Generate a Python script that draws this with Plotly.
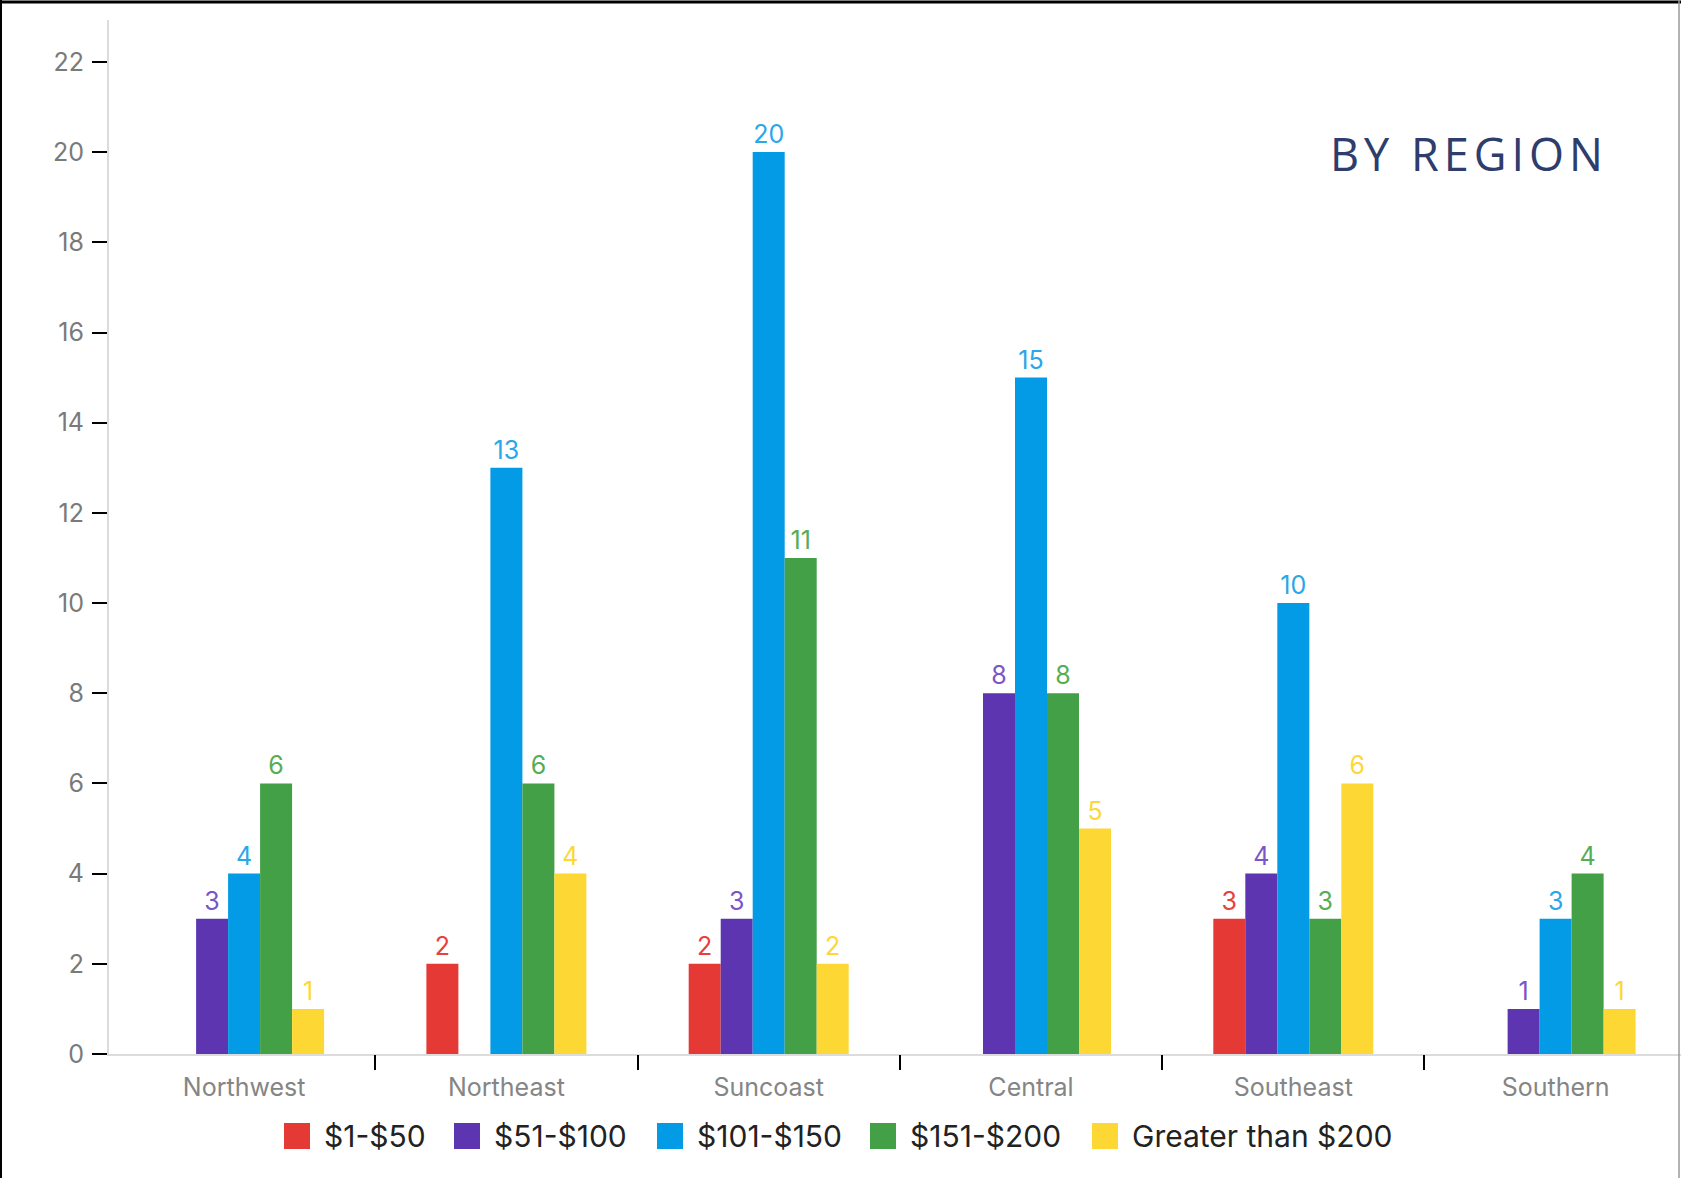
import plotly.graph_objects as go

regions = ["Northwest", "Northeast", "Suncoast", "Central", "Southeast", "Southern"]
series_names = ["$1-$50", "$51-$100", "$101-$150", "$151-$200", "Greater than $200"]
v_1_50 = [None, 2, 2, None, 3, None]
v_51_100 = [3, None, 3, 8, 4, 1]
v_101_150 = [4, 13, 20, 15, 10, 3]
v_151_200 = [6, 6, 11, 8, 3, 4]
v_gt_200 = [1, 4, 2, 5, 6, 1]
y_ticks = [0, 2, 4, 6, 8, 10, 12, 14, 16, 18, 20, 22]

series_values = [v_1_50, v_51_100, v_101_150, v_151_200, v_gt_200]
bar_colors = ["#e53935", "#5e35b1", "#039be5", "#43a047", "#fdd835"]
label_colors = ["#e8403c", "#7a55c8", "#2aa6ea", "#55ad55", "#fdd835"]

# layout constants (pixels)
W, H = 1681, 1178
ML, MR, MT, MB = 109, 0, 20, 124
PW = W - ML - MR
PH = H - MT - MB
FONT = "Inter, Roboto, sans-serif"
X_RANGE = [-0.515, 5.478]
legend_swatch_left = [284, 454, 657, 870, 1092]
LEG_SW = 26
LEG_Y = 1136


def px_x(p):
    return (p - ML) / PW


def px_y(p):
    return (H - MB - p) / PH


fig = go.Figure()
for name, vals, c, lc in zip(series_names, series_values, bar_colors, label_colors):
    fig.add_trace(go.Bar(
        x=regions, y=vals, name=name, marker=dict(color=c, line=dict(width=0)),
        text=vals, texttemplate="%{y}", textposition="outside",
        textfont=dict(color=lc, size=25, family=FONT),
        cliponaxis=False, showlegend=False,
    ))

# empty helper trace so the separator-tick axis is drawn
fig.add_trace(go.Scatter(x=[None], y=[None], xaxis="x2", yaxis="y", mode="markers",
                         showlegend=False, hoverinfo="skip"))

shapes = [
    # figure border
    dict(type="line", xref="paper", yref="paper", x0=px_x(0), x1=px_x(W), y0=px_y(2), y1=px_y(2),
         line=dict(color="black", width=3)),
    dict(type="line", xref="paper", yref="paper", x0=px_x(1), x1=px_x(1), y0=px_y(0), y1=px_y(H),
         line=dict(color="black", width=2)),
    dict(type="line", xref="paper", yref="paper", x0=px_x(W - 2), x1=px_x(W - 2), y0=px_y(0), y1=px_y(H),
         line=dict(color="#9a9a9a", width=1.5)),
]
annotations = [dict(text='<span style="letter-spacing:5px">BY REGION</span>',
                    xref="paper", yref="paper", x=0.955, y=0.871,
                    xanchor="right", yanchor="middle", showarrow=False,
                    font=dict(family="Open Sans, sans-serif", size=45, color="#2e3d6b"))]

# legend (drawn as swatches + labels)
for name, c, sx in zip(series_names, bar_colors, legend_swatch_left):
    shapes.append(dict(type="rect", xref="paper", yref="paper",
                       x0=px_x(sx), x1=px_x(sx + LEG_SW),
                       y0=px_y(LEG_Y - LEG_SW / 2), y1=px_y(LEG_Y + LEG_SW / 2),
                       fillcolor=c, line=dict(width=0)))
    annotations.append(dict(text=name, xref="paper", yref="paper",
                            x=px_x(sx + LEG_SW + 12), y=px_y(LEG_Y),
                            xanchor="left", yanchor="middle", showarrow=False,
                            font=dict(size=30, color="#222222", family=FONT)))

fig.update_layout(
    width=W, height=H,
    margin=dict(l=ML, r=MR, t=MT, b=MB),
    paper_bgcolor="white", plot_bgcolor="white",
    barmode="group", bargap=0.39, bargroupgap=0,
    font=dict(family=FONT),
    showlegend=False,
    shapes=shapes,
    annotations=annotations,
    xaxis=dict(
        range=X_RANGE, showline=True, linecolor="#dcdcdc", linewidth=2, showgrid=False,
        zeroline=False, ticks="", tickfont=dict(size=25, color="#858585", family=FONT),
        ticklabelstandoff=10,
    ),
    # separator ticks between regions
    xaxis2=dict(
        overlaying="x", anchor="y", side="bottom", range=X_RANGE,
        tickvals=[0.5, 1.5, 2.5, 3.5, 4.5], showticklabels=False,
        ticks="outside", ticklen=15, tickwidth=2, tickcolor="black",
        showline=False, showgrid=False, zeroline=False,
    ),
    yaxis=dict(
        range=[0, 22.93], tickvals=y_ticks, showline=True, linecolor="#dcdcdc", linewidth=2,
        showgrid=False, zeroline=False, ticks="outside", ticklen=15, tickwidth=2, tickcolor="black",
        tickfont=dict(size=25, color="#7a7a7a", family=FONT), ticklabelstandoff=3,
    ),
)

fig.write_html("out.html", config={"displayModeBar": False},
               post_script="document.body.style.margin='0';document.body.style.overflow='hidden';")
